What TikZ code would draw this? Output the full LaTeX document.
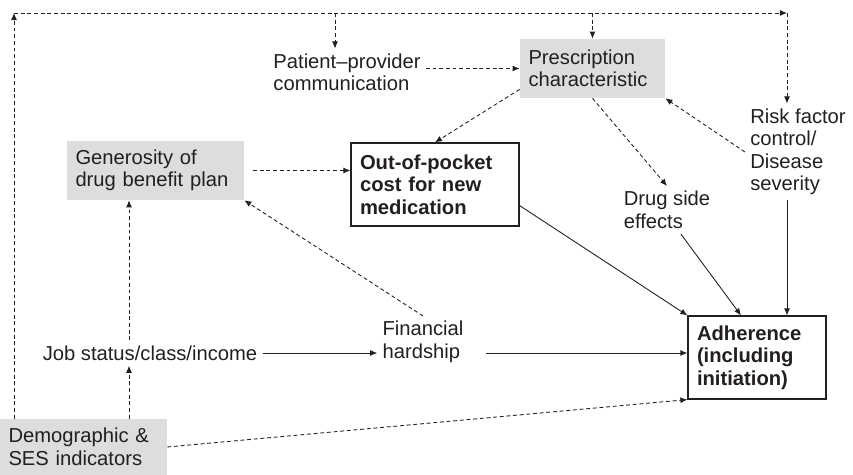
\documentclass[tikz,border=0pt]{standalone}
\usepackage{fontspec}
\setmainfont{Liberation Sans}
\usetikzlibrary{arrows.meta,calc}
\definecolor{boxgrey}{RGB}{220,221,222}
\definecolor{inkdark}{RGB}{35,31,32}

\begin{document}
\begin{tikzpicture}[
    x=0.02cm, y=-0.02cm,
    every node/.style={font=\fontsize{11.5}{12.8}\selectfont, text=inkdark, align=left},
    plainlabel/.style={inner sep=0.1cm},
    greybox/.style={rectangle, fill=boxgrey, inner xsep=0.17cm, inner ysep=0.05cm},
    outcomebox/.style={rectangle, draw=inkdark, line width=0.7pt, fill=white, inner xsep=0.18cm, minimum height=1.66cm, font=\fontsize{11.5}{12.8}\selectfont\bfseries},
    arr/.style={-{Latex[length=4pt,width=3.4pt]}, line width=0.5pt, draw=inkdark},
    dasharr/.style={arr, dash pattern=on 2.2pt off 1.6pt}
]
\useasboundingbox (0,0) rectangle (853,475);

\node[greybox, text width=2.56cm, minimum height=1.18cm] (presc) at (592.5,68.5) {Prescription\\characteristic};
\node[greybox, text width=3.2cm, minimum height=1.18cm] (benefit) at (155.5,170.5) {Generosity of\\drug benefit plan};
\node[greybox, text width=3.0cm, minimum height=1.12cm] (demog) at (83.5,447) {Demographic \&\\SES indicators};
\node[outcomebox, text width=3.0cm] (oop) at (435,184.5) {Out-of-pocket\\cost for new\\medication};
\node[outcomebox, text width=2.4cm] (adh) at (757,357.5) {Adherence\\(including\\initiation)};
\node[plainlabel] (patient) at (347,72.5) {Patient–provider\\communication};
\node[plainlabel] (risk) at (798,152) {Risk factor\\control/\\Disease\\severity};
\node[plainlabel] (sidefx) at (667,210) {Drug side\\effects};
\node[plainlabel] (job) at (150,353) {Job status/class/income};
\node[plainlabel] (hardship) at (423,342) {Financial\\hardship};

% loop along the top edge
\coordinate (tl) at (14,13);
\coordinate (tr) at (787,13);
\coordinate (drop) at (335,13);
\coordinate (col) at (129,0);
\draw[dasharr] (tl |- demog.north) -- (tl);
\draw[dasharr] (tl) -- (tr);
\draw[dasharr] (tr) -- (tr |- risk.north);
\draw[dasharr] (drop) -- (drop |- patient.north);
\draw[dasharr] (presc.north |- tl) -- (presc.north);

% dashed links
\draw[dasharr] (patient.east |- presc.west) -- (presc.west);
\draw[dasharr] (risk.west) -- (presc.south east);
\draw[dasharr] (presc.south) -- (sidefx.north);
\draw[dasharr] (presc.196) -- (oop.north);
\draw[dasharr, shorten <=5pt] (benefit.east) -- (benefit.east -| oop.west);
\draw[dasharr] (hardship.north) -- (benefit.south east);
\draw[dasharr] (col |- job.north) -- (col |- benefit.south);
\draw[dasharr] (col |- demog.north) -- (col |- job.south);
\draw[dasharr] (demog.east) -- (adh.south west);

% solid links into adherence
\draw[arr] (job.east) -- (job.east -| hardship.west);
\draw[arr, shorten <=10pt] (hardship.east |- job.east) -- (job.east -| adh.west);
\draw[arr] (oop.346) -- (adh.north west);
\draw[arr] (sidefx.300) -- ($(adh.north)+(-16,0)$);
\draw[arr] (risk.south -| tr) -- (adh.north -| tr);

\end{tikzpicture}
\end{document}
